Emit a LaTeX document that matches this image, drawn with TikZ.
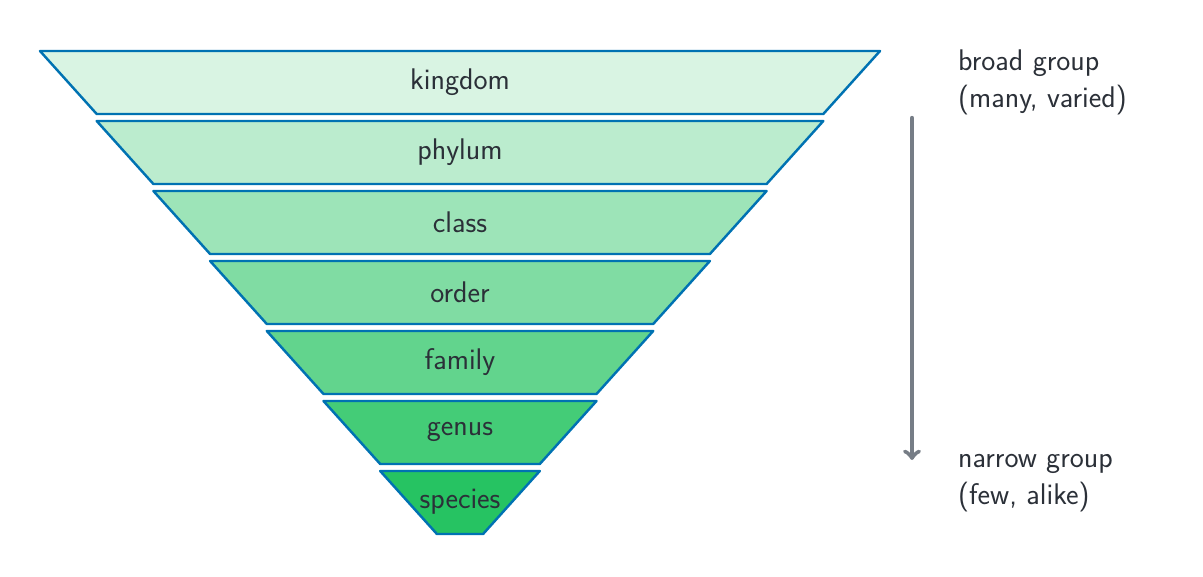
\documentclass[tikz,border=0pt]{standalone}
\usepackage{xcolor}
\usepackage{tikz}
\definecolor{edgeblue}{HTML}{0072B2}
\definecolor{txtgray}{HTML}{2B3038}
\definecolor{arrgray}{HTML}{767D86}
\tikzset{
  level/.style={draw=edgeblue, line width=1.4pt, line join=round},
  lab/.style={text=txtgray, font=\sffamily\fontsize{17}{21}\selectfont},
  side/.style={lab, anchor=north west, align=left}
}
\begin{document}
\begin{tikzpicture}[x=0.02cm,y=-0.02cm]
  \useasboundingbox (0,0) rectangle (1203,577);
  \foreach \name [count=\i from 0, evaluate=\i as \top using 51+70*\i,
      evaluate=\i as \half using 420-56.7*\i,
      evaluate=\i as \shade using 15+70*\i/6] in
      {kingdom,phylum,class,order,family,genus,species}{
    \fill[teal!40!green!60!cyan!\shade!white, fill=green!50!teal!35!white] (0,0) rectangle (0,0);
    \path[level, fill=green!45!teal!\shade!white]
      (460-\half,\top) -- (460+\half,\top) -- (460+\half-56.7,\top+63)
      -- (460-\half+56.7,\top+63) -- cycle;
    \node[lab] (\name) at (460,\top+31) {\name};
  }
  % side notes
  \node[side] (broad) at (952,44) {broad group\\(many, varied)};
  \node[side] (narrow) at (952,448) {narrow group\\(few, alike)};
  \coordinate (atop) at (912,118);
  \coordinate (abot) at (912,460);
  \draw[->, arrgray, line width=2.5pt, line cap=round] (atop) -- (abot);
\end{tikzpicture}
\end{document}
